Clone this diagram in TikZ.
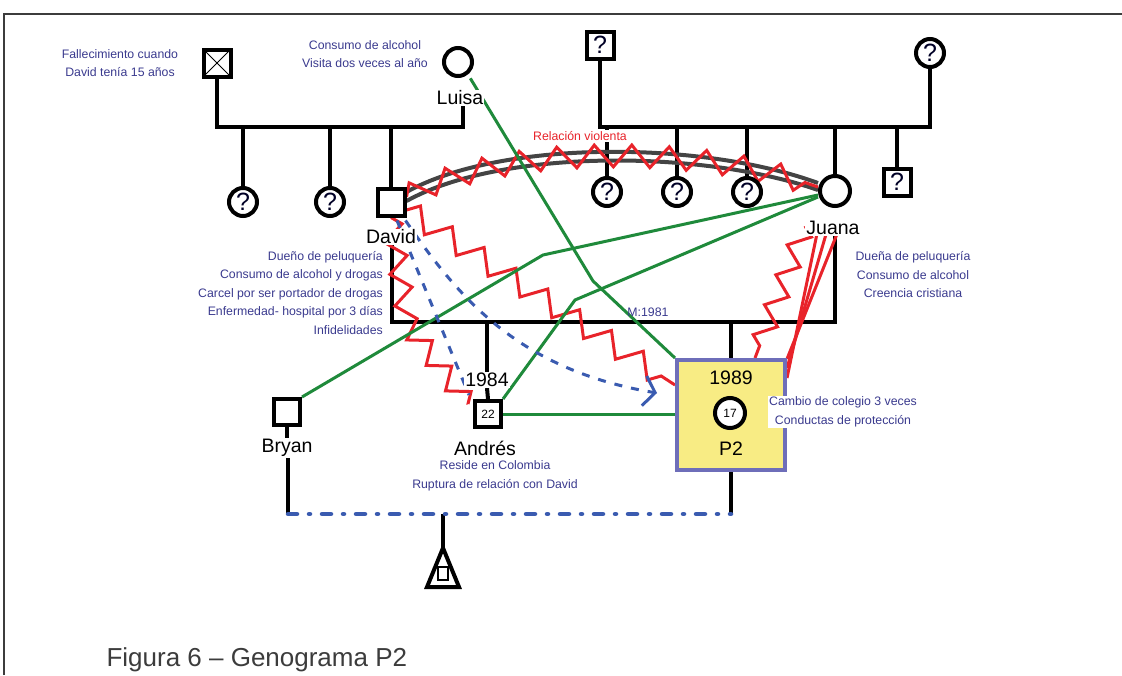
\documentclass[tikz,border=0pt]{standalone}
\usepackage{fontspec}
\setmainfont{Liberation Sans}
\usetikzlibrary{decorations.pathmorphing,arrows.meta,calc}
\definecolor{vred}{HTML}{E8232A}
\definecolor{vgreen}{HTML}{1F8A3B}
\definecolor{vblue}{HTML}{3A5BB0}
\definecolor{noteblue}{HTML}{3A3A8E}
\definecolor{curvegray}{HTML}{444444}
\definecolor{pfill}{HTML}{F8EC84}
\definecolor{pborder}{HTML}{6E6EB9}
\definecolor{framegray}{HTML}{3C3C3C}
\pgfdeclarelayer{bg}
\pgfsetlayers{bg,main}
\tikzset{
 fam/.style={line width=4pt},
 male/.style={draw, rectangle, line width=4pt, minimum size=27pt, inner sep=0pt, fill=white},
 female/.style={draw, circle, line width=4pt, minimum size=28pt, inner sep=0pt, fill=white},
 qmark/.style={font=\fontsize{25}{25}\selectfont, text=black!85!blue},
 lbltext/.style={font=\fontsize{19.5}{20}\selectfont, inner sep=1pt},
 lbl/.style={lbltext, fill=white},
 notetext/.style={font=\fontsize{12.3}{18.5}\selectfont, text=noteblue, align=center, inner sep=0pt},
 conflict/.style={draw=vred, line width=3pt, decorate, decoration={zigzag, segment length=37pt, amplitude=9pt}},
 redline/.style={draw=vred, line width=3pt},
 closeline/.style={draw=vgreen, line width=3pt},
 dashline/.style={draw=vblue, line width=3pt, dash pattern=on 8pt off 9pt},
 dashdot/.style={draw=vblue, line width=4.5pt, line cap=round, dash pattern=on 9pt off 12pt on 1pt off 12pt},
 graycurve/.style={draw=curvegray, line width=4pt},
}
\begin{document}
\begin{tikzpicture}[x=1pt,y=-1pt]
\useasboundingbox (0,0) rectangle (1122,675);
\draw[framegray, line width=2pt] (4,675) -- (4,14) -- (1122,14);

% --- people ---
\node[male, path picture={\draw[line width=1pt] (path picture bounding box.north west) -- (path picture bounding box.south east) (path picture bounding box.north east) -- (path picture bounding box.south west);}] (gf) at (217,63) {};
\node[female] (luisa) at (458,62) {};
\node[lbl] (luisalbl) at (460,98) {Luisa};
\node[female,qmark] (c1) at (243,202) {?};
\node[female,qmark] (c2) at (330,202) {?};
\node[male] (david) at (391,202) {};
\node[lbl] (davidlbl) at (391,237) {David};

\node[male,qmark] (gfj) at (600,45) {?};
\node[female,qmark] (gmj) at (930,53) {?};
\node[female,qmark] (s1) at (607,192) {?};
\node[female,qmark] (s2) at (677,192) {?};
\node[female,qmark] (s3) at (747,192) {?};
\node[female, minimum size=30pt] (juana) at (835,191) {};
\node[lbl] (juanalbl) at (833,228) {Juana};
\node[male,qmark] (s4) at (897,182) {?};

\node[male, minimum size=26pt, font=\fontsize{12}{12}\selectfont] (andres) at (488,414) {22};
\node[lbl] (y1984) at (487,380) {1984};
\node[lbl] (andreslbl) at (485,448) {Andrés};

\node[male, minimum size=26pt] (bryan) at (287,412) {};
\node[lbl] (bryanlbl) at (287,448) {Bryan};

\node[draw=pborder, fill=pfill, line width=4pt, minimum width=108pt, minimum height=110pt] (p2box) at (731,415) {};
\node[lbltext] (y1989) at (731,378) {1989};
\node[female, minimum size=30pt, font=\fontsize{12}{12}\selectfont] (p2) at (730,413) {17};
\node[lbltext] (p2lbl) at (731,449) {P2};

% --- notes ---
\node[notetext] (n1) at (120,63) {Fallecimiento cuando\\David tenía 15 años};
\node[notetext] (n2) at (365,54) {Consumo de alcohol\\Visita dos veces al año};
\node[notetext, align=right, anchor=east] (n3) at (383,293) {Dueño de peluquería\\Consumo de alcohol y drogas\\Carcel por ser portador de drogas\\Enfermedad- hospital por 3 días\\Infidelidades};
\node[notetext] (n4) at (913,275) {Dueña de peluquería\\Consumo de alcohol\\Creencia cristiana};
\node[notetext, fill=white, inner sep=1pt] (n5) at (843,412) {Cambio de colegio 3 veces\\Conductas de protección};
\node[notetext] (n6) at (495,476) {Reside en Colombia\\Ruptura de relación con David};
\node[notetext] (m1981) at (648,312) {M:1981};
\node[notetext, text=vred, fill=white, inner sep=1pt] (rv) at (580,136) {Relación violenta};

\node[anchor=base west, font=\fontsize{26}{26}\selectfont, text=framegray] (cap) at (103,666) {Figura 6 – Genograma P2};

% pregnancy
\coordinate (tri) at (443,548);
\draw[fam, line join=miter] (tri) -- ++(16,39) -- ++(-32,0) -- cycle;
\draw[line width=1.5pt] (438,567) rectangle (448,580);

\begin{pgfonlayer}{bg}
% family lines
\coordinate (pL) at (217,127);
\coordinate (pR) at (463,127);
\draw[fam] (gf.south) -- (pL) -- (pR) -- (luisalbl.south -| pR);
\draw[fam] (c1.north |- pL) -- (c1.north);
\draw[fam] (c2.north |- pL) -- (c2.north);
\draw[fam] (david.north |- pL) -- (david.north);

\coordinate (qL) at (600,127);
\coordinate (qR) at (930,127);
\draw[fam] (gfj.south) -- (qL) -- (qR) -- (gmj.south);
\draw[fam] (s1.north |- qL) -- (s1.north);
\draw[fam] (s2.north |- qL) -- (s2.north);
\draw[fam] (s3.north |- qL) -- (s3.north);
\draw[fam] (juana.north |- qL) -- (juana.north);
\draw[fam] (s4.north |- qL) -- (s4.north);

\coordinate (mL) at (392,322);
\coordinate (mR) at (835,322);
\draw[fam] (davidlbl.south -| mL) -- (mL) -- (mR) -- (juanalbl.south -| mR);
\draw[fam] (y1984.north |- mL) -- (y1984.north);
\draw[fam] (y1984.south) -- (andres.north);
\draw[fam] (p2box.north |- mL) -- (p2box.north);

\coordinate (bL) at (288,514);
\coordinate (bR) at (731,514);
\draw[fam] (bryan.south) -- (bryanlbl.north);
\draw[fam] (bryanlbl.south -| bL) -- (bL);
\draw[fam] (p2box.south) -- (bR);
\draw[fam] (tri |- bL) -- (tri);
\draw[dashdot] (bL) -- (bR);

% relationship lines
\draw[graycurve] ($(david.east)+(0,-10)$) .. controls (500,140) and (700,140) .. ($(juana.west)+(0,-8)$);
\draw[graycurve] ($(david.east)+(0,-1)$) .. controls (500,149) and (700,149) .. ($(juana.west)+(0,-1)$);
\draw[conflict, decoration={segment length=37pt, amplitude=11pt}] ($(david.east)+(0,-5)$) .. controls (500,144) and (700,144) .. ($(juana.west)+(0,-4)$);

\draw[conflict, decoration={segment length=38pt, amplitude=11pt}] ($(david.east)+(0,8)$) -- ($(p2box.west)+(0,-30)$);
\coordinate (kA) at (408,325);
\draw[conflict, decoration={segment length=32pt, amplitude=10pt}] (david.south) -- (kA) -- ($(andres.north west)+(-5,5)$);
\draw[conflict, decoration={segment length=32pt, amplitude=10pt}] ($(juana.south)+(-30,18)$) -- ($(p2box.north east)+(-32,0)$);
\draw[redline] ($(juana.south)+(-16,16)$) -- ($(p2box.east)+(0,-37)$);
\draw[redline] ($(juana.south)+(-6,16)$) -- ($(p2box.east)+(0,-47)$);
\draw[redline] ($(juana.south)+(6,16)$) -- ($(p2box.east)+(0,-56)$);

\coordinate (gL) at (593,281);
\draw[closeline] ($(luisa.south east)+(1,5)$) -- (gL) -- (p2box.north west);
\coordinate (gB) at (543,255);
\draw[closeline] ($(juana.west)+(0,4)$) -- (gB) -- (bryan.north east);
\coordinate (gA) at (575,300);
\draw[closeline] ($(juana.west)+(0,6)$) -- (gA) -- (andres.north east);
\draw[closeline] (andres.east) -- (andres.east -| p2box.west);

\draw[dashline] ($(david.south)+(6,3)$) -- ($(andres.north west)+(-4,-4)$);
\draw[dashline, -{Straight Barb[length=11pt,width=30pt,line width=3pt]}] ($(david.south east)+(-1,3)$) .. controls (460,300) and (520,370) .. ($(p2box.west)+(-18,-22)$);
\end{pgfonlayer}
\end{tikzpicture}
\end{document}
